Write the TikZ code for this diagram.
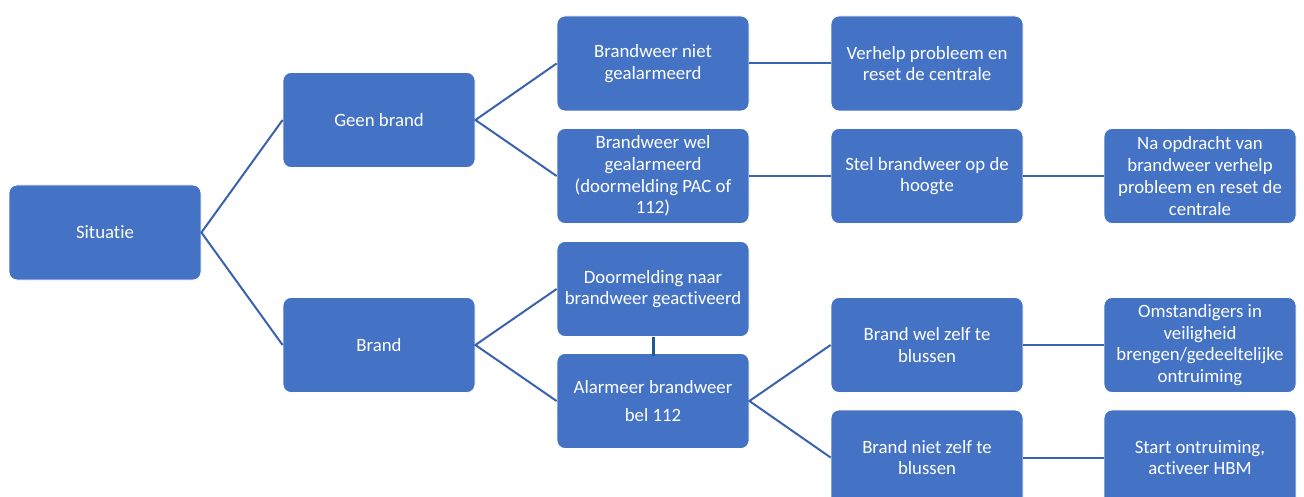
\documentclass[tikz,border=0pt]{standalone}
\usepackage{fontspec}
\setmainfont{Carlito}[Ligatures=NoCommon]
\definecolor{boxblue}{HTML}{4472C4}
\definecolor{linkblue}{HTML}{3A62AE}
\definecolor{darklink}{HTML}{1F5A96}
\begin{document}
\begin{tikzpicture}[x=1pt,y=-1pt,
  box/.style={rectangle, rounded corners=8pt, fill=boxblue, draw=white, line width=0.8pt,
    minimum width=192pt, minimum height=95pt, inner sep=2pt, text=white, align=center,
    font=\fontsize{18.8pt}{21.7pt}\selectfont},
  link/.style={draw=linkblue, line width=2pt},
  vlink/.style={draw=darklink, line width=3pt}]
\clip (0,0) rectangle (1304,497);
\fill[white] (0,0) rectangle (1304,497);
\node[box] (sit) at (105,232.5) {Situatie};
\node[box] (geen) at (379,120) {Geen brand};
\node[box] (brand) at (379,345) {Brand};
\node[box] (bn) at (653,63.5) {Brandweer niet\\gealarmeerd};
\node[box] (bw) at (653,176) {Brandweer wel\\gealarmeerd\\(doormelding PAC of\\112)};
\node[box] (dm) at (653,289) {Doormelding naar\\brandweer geactiveerd};
\node[box] (al) at (653,401) {Alarmeer brandweer\\[6pt]bel 112};
\node[box] (vp) at (927,63.5) {Verhelp probleem en\\reset de centrale};
\node[box] (st) at (927,176) {Stel brandweer op de\\hoogte};
\node[box] (bwz) at (927,345) {Brand wel zelf te\\blussen};
\node[box] (bnz) at (927,457.5) {Brand niet zelf te\\blussen};
\node[box] (na) at (1200,176) {Na opdracht van\\brandweer verhelp\\probleem en reset de\\centrale};
\node[box] (om) at (1200,345) {Omstandigers in\\veiligheid\\brengen/gedeeltelijke\\ontruiming};
\node[box] (so) at (1200,457.5) {Start ontruiming,\\activeer HBM};
\draw[link] (geen.west) -- (sit.east) -- (brand.west);
\draw[link] (bn.west) -- (geen.east) -- (bw.west);
\draw[link] (dm.west) -- (brand.east) -- (al.west);
\draw[link] (bwz.west) -- (al.east) -- (bnz.west);
\draw[link] (bn.east) -- (vp.west);
\draw[link] (bw.east) -- (st.west);
\draw[link] (st.east) -- (na.west);
\draw[link] (bwz.east) -- (om.west);
\draw[link] (bnz.east) -- (so.west);
\draw[vlink] (dm.south) -- ([yshift=-3pt]al.north);
\end{tikzpicture}
\end{document}
